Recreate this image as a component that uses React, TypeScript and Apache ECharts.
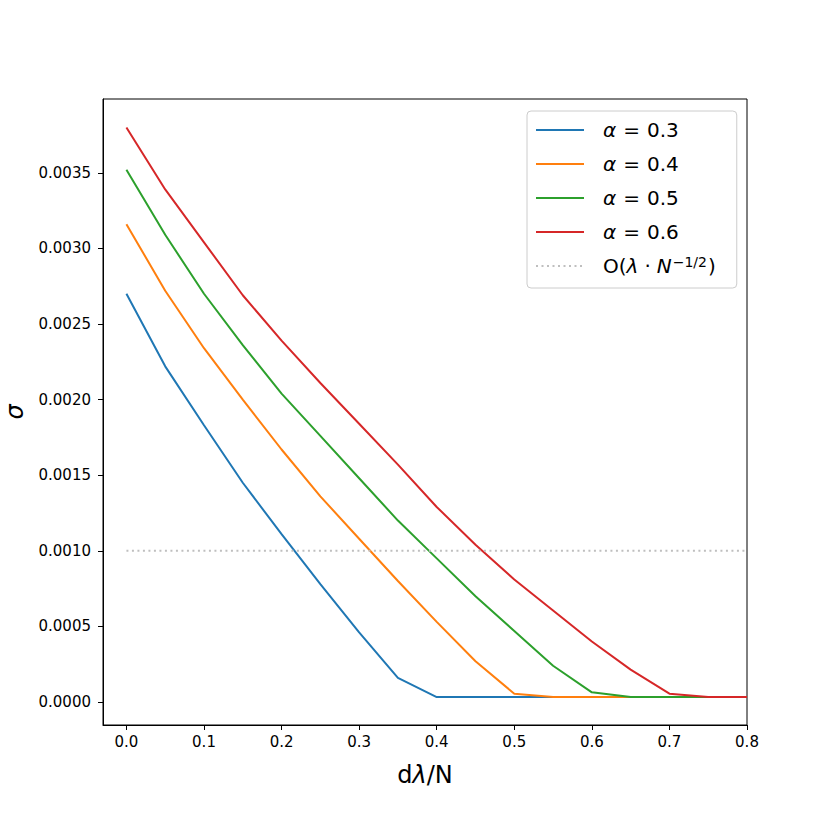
import React, { useEffect, useRef } from "react";
import * as echarts from "echarts";

const xs = [0, 0.05, 0.1, 0.15, 0.2, 0.25, 0.3, 0.35, 0.4, 0.45, 0.5, 0.55, 0.6, 0.65, 0.7, 0.75, 0.8];
const alpha03 = [0.0027, 0.00222, 0.00183, 0.00145, 0.00111, 0.00078, 0.00046, 0.00016, 0.000033, 0.000033, 0.000033, 0.000033, 0.000033, 0.000033, 0.000033, 0.000033, 0.000033];
const alpha04 = [0.00316, 0.00272, 0.00234, 0.002, 0.00167, 0.00136, 0.00108, 0.0008, 0.00053, 0.00027, 0.000055, 0.000033, 0.000033, 0.000033, 0.000033, 0.000033, 0.000033];
const alpha05 = [0.00352, 0.00309, 0.0027, 0.00236, 0.00204, 0.00176, 0.00148, 0.0012, 0.00095, 0.0007, 0.00047, 0.00024, 0.000064, 0.000033, 0.000033, 0.000033, 0.000033];
const alpha06 = [0.0038, 0.00339, 0.00304, 0.00269, 0.00239, 0.00211, 0.00184, 0.00157, 0.00129, 0.00104, 0.00081, 0.000605, 0.0004, 0.000214, 0.000055, 0.000033, 0.000033];
const refXs = [0, 0.8];
const refLevel = 0.001;

const seriesNames = ["α = 0.3", "α = 0.4", "α = 0.5", "α = 0.6"];
const seriesLabels = ["{i|α}{e|=}0.3", "{i|α}{e|=}0.4", "{i|α}{e|=}0.5", "{i|α}{e|=}0.6"];
const refName = "O(λ · N^-1/2)";
const refLabel = "O({i|λ}{d|·}{i|N}{s|−1/2})";
const colors = ["#1f77b4", "#ff7f0e", "#2ca02c", "#d62728"];

const xTicks = [0, 0.1, 0.2, 0.3, 0.4, 0.5, 0.6, 0.7, 0.8];
const yTicks = [0, 0.0005, 0.001, 0.0015, 0.002, 0.0025, 0.003, 0.0035];

const FONT = "DejaVu Sans";

export default function App() {
  const ref = useRef<HTMLDivElement>(null);
  useEffect(() => {
    if (!ref.current) return;
    const chart = echarts.init(ref.current, undefined, { renderer: "svg" });
    const allSeries = [alpha03, alpha04, alpha05, alpha06];
    const labelMap: Record<string, string> = {};
    seriesNames.forEach((n, i) => (labelMap[n] = seriesLabels[i]));
    labelMap[refName] = refLabel;

    chart.setOption({
      animation: false,
      backgroundColor: "#ffffff",
      textStyle: { fontFamily: FONT },
      grid: {
        left: 103,
        top: 99,
        width: 644,
        height: 626,
        show: true,
        borderColor: "#000",
        borderWidth: 1,
        backgroundColor: "transparent",
        outerBoundsMode: "none",
        containLabel: false,
      },
      legend: {
        orient: "vertical",
        left: 527,
        top: 111,
        padding: [8, 21, 11, 8],
        itemWidth: 48,
        itemHeight: 14,
        itemGap: 12,
        backgroundColor: "rgba(255,255,255,0.8)",
        borderColor: "#cccccc",
        borderWidth: 1,
        borderRadius: 4,
        itemStyle: { opacity: 0 },
        data: [...seriesNames, refName],
        formatter: (name: string) => labelMap[name] || name,
        textStyle: {
          fontFamily: FONT,
          fontSize: 20,
          color: "#000",
          lineHeight: 22,
          padding: [0, 0, 0, 14],
          rich: {
            i: { fontFamily: FONT, fontSize: 20, fontStyle: "italic", color: "#000" },
            e: { fontFamily: FONT, fontSize: 20, color: "#000", padding: [0, 7, 0, 7] },
            d: { fontFamily: FONT, fontSize: 20, color: "#000", padding: [0, 6, 0, 6] },
            s: { fontFamily: FONT, fontSize: 14, color: "#000", verticalAlign: "top", padding: [0, 1, 8, 1] },
          },
        },
      },
      xAxis: {
        type: "value",
        min: -0.0302,
        max: 0.8,
        name: "d{i|λ}/N",
        nameLocation: "middle",
        nameGap: 38,
        nameTextStyle: {
          fontFamily: FONT,
          fontSize: 24,
          color: "#000",
          rich: { i: { fontFamily: FONT, fontSize: 24, fontStyle: "italic", color: "#000" } },
        },
        splitLine: { show: false },
        axisLine: { show: true, onZero: false, lineStyle: { color: "#000", width: 1 } },
        axisTick: {
          show: true,
          length: 5,
          inside: false,
          customValues: xTicks,
          lineStyle: { color: "#000", width: 1 },
        },
        axisLabel: {
          customValues: xTicks,
          margin: 9,
          fontFamily: FONT,
          fontSize: 15,
          color: "#000",
          formatter: (v: number) => v.toFixed(1),
        },
      },
      yAxis: {
        type: "value",
        min: -0.000152,
        max: 0.003988,
        name: "σ",
        nameLocation: "middle",
        nameGap: 76,
        nameRotate: 90,
        nameTextStyle: { fontFamily: FONT, fontSize: 24, fontStyle: "italic", color: "#000" },
        splitLine: { show: false },
        axisLine: { show: true, onZero: false, lineStyle: { color: "#000", width: 1 } },
        axisTick: {
          show: true,
          length: 5,
          inside: false,
          customValues: yTicks,
          lineStyle: { color: "#000", width: 1 },
        },
        axisLabel: {
          customValues: yTicks,
          margin: 12,
          fontFamily: FONT,
          fontSize: 15,
          color: "#000",
          formatter: (v: number) => v.toFixed(4),
        },
      },
      series: [
        ...allSeries.map((vals, i) => ({
          type: "line",
          name: seriesNames[i],
          data: xs.map((x, k) => [x, vals[k]]),
          showSymbol: false,
          symbol: "none",
          color: colors[i],
          lineStyle: { color: colors[i], width: 2 },
          z: 2 + i,
        })),
        {
          type: "line",
          name: refName,
          data: refXs.map((x) => [x, refLevel]),
          showSymbol: false,
          symbol: "none",
          color: "#bfbfbf",
          lineStyle: { color: "#bfbfbf", width: 2, type: [2, 3.5] },
          z: 7,
        },
      ],
    });
    return () => chart.dispose();
  }, []);
  return (
    <div
      ref={ref}
      style={{ position: "fixed", left: 0, top: 0, width: 830, height: 830, background: "#fff" }}
    />
  );
}
